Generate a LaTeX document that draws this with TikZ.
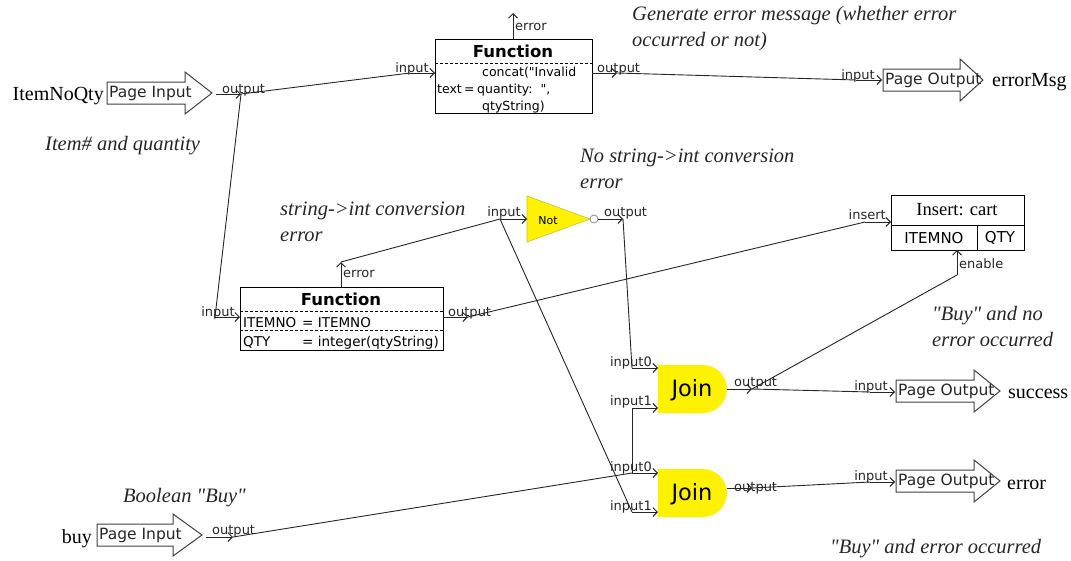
\documentclass[tikz,border=0pt]{standalone}
\usepackage{fontspec}
\setmainfont{Liberation Serif}
\setsansfont{DejaVu Sans}
\usetikzlibrary{arrows.meta}

% block arrow outline: left x, centre y, head start x, tip x
\newcommand\pagearrow[4]{%
  \draw[blockarrow] (#1,#2-11) -- (#3,#2-11) -- (#3,#2-21) -- (#4,#2)
    -- (#3,#2+21) -- (#3,#2+11) -- (#1,#2+11) -- cycle;}
\newcommand\dq{\textquotedbl}

\begin{document}
\begin{tikzpicture}[x=1pt,y=-1pt,
  wire/.style={draw=black!85, line width=0.9pt},
  port/.style={wire, -{Straight Barb[length=4.5pt,width=9pt,line width=0.9pt]}},
  plab/.style={font=\sffamily\fontsize{13}{13}\selectfont, inner sep=0pt, text=black!85},
  note/.style={font=\itshape\fontsize{20.5}{25.5}\selectfont, align=left, inner sep=0pt, anchor=base west, text=black!85},
  varname/.style={font=\fontsize{20}{20}\selectfont, inner sep=0pt},
  blockarrow/.style={draw=black!75, line width=1pt, fill=white},
  arrtext/.style={font=\sffamily\fontsize{15.5}{15.5}\selectfont, inner sep=0pt, anchor=west, text=black!85},
  boxline/.style={draw=black, line width=1pt},
  sepline/.style={draw=black, line width=0.8pt, dash pattern=on 3pt off 2pt},
  ftitle/.style={font=\sffamily\bfseries\fontsize{16.5}{16.5}\selectfont, inner sep=0pt},
  fbody/.style={font=\sffamily\fontsize{13.5}{13.5}\selectfont, inner sep=0pt, anchor=base west},
  fbodysm/.style={fbody, font=\sffamily\fontsize{12.5}{12.5}\selectfont},
  gate/.style={fill=yellow},
  joinlab/.style={font=\sffamily\fontsize{22.5}{22.5}\selectfont, inner sep=0pt},
]
\useasboundingbox (0,0) rectangle (1071,560);

% ---------------- page input: ItemNoQty ----------------
\node[varname, anchor=base east] (itemnoqty) at (104,100) {ItemNoQty};
\pagearrow{107}{93}{185}{212}
\node[arrtext] (pinA) at (109,93) {Page Input};
\coordinate (pinA-s) at (216,94);
\coordinate (pinA-o) at (241,94);
\draw[port] (pinA-s) -- (pinA-o);
\node[plab, anchor=base west] (pinA-lab) at (222,93) {output};
\node[note] (n-item) at (45,150) {Item\# and quantity};

% ---------------- top function ----------------
\node[boxline, anchor=north west, minimum width=157pt, minimum height=74pt, inner sep=0pt] (fn1) at (435,39) {};
\draw[sepline] (435,63) -- (592,63);
\node[ftitle] (fn1-title) at (513,51) {Function};
\node[fbodysm] (fn1-l1) at (482,76) {concat(\dq Invalid};
\node[fbodysm] (fn1-l2a) at (437,93) {text};
\node[fbodysm] (fn1-l2b) at (464,93) {=};
\node[fbodysm] (fn1-l2c) at (477,93) {quantity:\ \ \dq,};
\node[fbodysm] (fn1-l3) at (482,110) {qtyString)};
\coordinate (fn1-is) at (410,73);
\coordinate (fn1-i) at (435,73);
\coordinate (fn1-o) at (592,73);
\coordinate (fn1-os) at (617,73);
\coordinate (fn1-e) at (513,39);
\coordinate (fn1-es) at (513,13);
\draw[port] (fn1-is) -- (fn1-i);
\draw[port] (fn1-o) -- (fn1-os);
\draw[port] (fn1-e) -- (fn1-es);
\node[plab, anchor=base east] (fn1-ilab) at (429,72) {input};
\node[plab, anchor=base west] (fn1-olab) at (597,72) {output};
\node[plab, anchor=base west] (fn1-elab) at (515,30) {error};
\node[note] (n-gen) at (632,46) {Generate error message (whether error\\occurred or not)};

% ---------------- page output: errorMsg ----------------
\pagearrow{883}{80}{960}{983}
\node[arrtext] (po1) at (885,80) {Page Output};
\node[varname, anchor=base west] (errormsg) at (992,86) {errorMsg};
\coordinate (po1-is) at (856,80);
\coordinate (po1-i) at (882,80);
\draw[port] (po1-is) -- (po1-i);
\node[plab, anchor=base east] (po1-lab) at (875,79) {input};

% ---------------- lower function ----------------
\node[boxline, anchor=north west, minimum width=203pt, minimum height=63pt, inner sep=0pt] (fn2) at (240,287) {};
\draw[sepline] (240,311) -- (443,311);
\draw[sepline] (240,330) -- (443,330);
\node[ftitle] (fn2-title) at (341,299) {Function};
\node[fbody] (fn2-l1a) at (243,327) {ITEMNO};
\node[fbody] (fn2-l1b) at (302,327) {= ITEMNO};
\node[fbody] (fn2-l2a) at (243,346) {QTY};
\node[fbody] (fn2-l2b) at (302,346) {= integer(qtyString)};
\coordinate (fn2-is) at (215,317);
\coordinate (fn2-i) at (240,317);
\coordinate (fn2-o) at (443,317);
\coordinate (fn2-os) at (468,317);
\coordinate (fn2-e) at (341,287);
\coordinate (fn2-es) at (341,262);
\draw[port] (fn2-is) -- (fn2-i);
\draw[port] (fn2-o) -- (fn2-os);
\draw[port] (fn2-e) -- (fn2-es);
\node[plab, anchor=base east] (fn2-ilab) at (235,316) {input};
\node[plab, anchor=base west] (fn2-olab) at (448,316) {output};
\node[plab, anchor=base west] (fn2-elab) at (343,277) {error};
\node[note] (n-conv) at (280,241) {string->int conversion\\error};

% ---------------- not gate ----------------
\fill[gate, draw=black!25!yellow, line width=0.6pt] (527,196) -- (590,219) -- (527,242) -- cycle;
\draw[draw=black!45, fill=white, line width=0.8pt] (594,219) circle[radius=4];
\node[font=\sffamily\fontsize{11}{11}\selectfont, inner sep=0pt] (notg) at (548,221) {Not};
\coordinate (not-is) at (500,219);
\coordinate (not-i) at (527,219);
\coordinate (not-o) at (598,219);
\coordinate (not-os) at (623,219);
\draw[port] (not-is) -- (not-i);
\draw[port] (not-o) -- (not-os);
\node[plab, anchor=base east] (not-ilab) at (521,216) {input};
\node[plab, anchor=base west] (not-olab) at (604,216) {output};
\node[note] (n-noconv) at (580,188) {No string->int conversion\\error};

% ---------------- join gates ----------------
\fill[gate] (658,365) -- (703,365) arc[start angle=-90, end angle=90, radius=24] -- (658,413) -- cycle;
\node[joinlab] (join1) at (692,390) {Join};
\fill[gate] (658,469) -- (703,469) arc[start angle=-90, end angle=90, radius=24] -- (658,517) -- cycle;
\node[joinlab] (join2) at (692,494) {Join};
\coordinate (j1-a) at (632,368);
\coordinate (j1-ai) at (658,368);
\coordinate (j1-b) at (632,408);
\coordinate (j1-bi) at (658,408);
\coordinate (j1-o) at (727,389);
\coordinate (j1-os) at (752,389);
\coordinate (j2-a) at (632,473);
\coordinate (j2-ai) at (658,473);
\coordinate (j2-b) at (632,512);
\coordinate (j2-bi) at (658,512);
\coordinate (j2-o) at (727,488);
\coordinate (j2-os) at (752,488);
\draw[port] (j1-a) -- (j1-ai);
\draw[port] (j1-b) -- (j1-bi);
\draw[port] (j1-o) -- (j1-os);
\draw[port] (j2-a) -- (j2-ai);
\draw[port] (j2-b) -- (j2-bi);
\draw[port] (j2-o) -- (j2-os);
\node[plab, anchor=base east] (j1-alab) at (652,366) {input0};
\node[plab, anchor=base east] (j1-blab) at (652,405) {input1};
\node[plab, anchor=base west] (j1-olab) at (734,386) {output};
\node[plab, anchor=base east] (j2-alab) at (652,471) {input0};
\node[plab, anchor=base east] (j2-blab) at (652,510) {input1};
\node[plab, anchor=base west] (j2-olab) at (734,491) {output};

% ---------------- insert: cart ----------------
\node[boxline, anchor=north west, minimum width=133pt, minimum height=55pt, inner sep=0pt] (ins) at (891,195) {};
\draw[boxline] (891,225) -- (1024,225);
\draw[boxline] (977,225) -- (977,250);
\node[font=\fontsize{18.5}{18.5}\selectfont, inner sep=0pt] (ins-title) at (957,210) {Insert: cart};
\node[font=\sffamily\fontsize{15}{15}\selectfont, inner sep=0pt] (ins-c1) at (934,238) {ITEMNO};
\node[font=\sffamily\fontsize{15}{15}\selectfont, inner sep=0pt] (ins-c2) at (1000,238) {QTY};
\coordinate (ins-is) at (865,222);
\coordinate (ins-i) at (891,222);
\coordinate (ins-es) at (957,275);
\coordinate (ins-e) at (957,250);
\draw[port] (ins-is) -- (ins-i);
\draw[port] (ins-es) -- (ins-e);
\node[plab, anchor=base east] (ins-ilab) at (886,219) {insert};
\node[plab, anchor=base west] (ins-elab) at (959,268) {enable};
\node[note] (n-buyok) at (932,346) {\dq Buy\dq\ and no\\error occurred};

% ---------------- page outputs: success, error ----------------
\pagearrow{896}{391}{974}{1000}
\node[arrtext] (po2) at (898,391) {Page Output};
\node[varname, anchor=base west] (success) at (1008,398) {success};
\coordinate (po2-is) at (870,392);
\coordinate (po2-i) at (895,392);
\draw[port] (po2-is) -- (po2-i);
\node[plab, anchor=base east] (po2-lab) at (888,390) {input};

\pagearrow{896}{481}{974}{1000}
\node[arrtext] (po3) at (898,481) {Page Output};
\node[varname, anchor=base west] (errorout) at (1007,489) {error};
\coordinate (po3-is) at (870,482);
\coordinate (po3-i) at (895,482);
\draw[port] (po3-is) -- (po3-i);
\node[plab, anchor=base east] (po3-lab) at (888,480) {input};
\node[note] (n-buyerr) at (830,553) {\dq Buy\dq\ and error occurred};

% ---------------- page input: buy ----------------
\node[varname, anchor=base east] (buy) at (92,543) {buy};
\pagearrow{97}{535}{173}{202}
\node[arrtext] (pinB) at (99,535) {Page Input};
\coordinate (pinB-s) at (206,537);
\coordinate (pinB-o) at (233,537);
\draw[port] (pinB-s) -- (pinB-o);
\node[plab, anchor=base west] (pinB-lab) at (212,534) {output};
\node[note] (n-bool) at (123,502) {Boolean \dq Buy\dq};

% ---------------- wires ----------------
\draw[wire] (pinA-o) -- (fn1-is);
\draw[wire] (pinA-o) -- (fn2-is);
\draw[wire] (fn1-os) -- (po1-is);
\draw[wire] (fn2-es) -- (not-is);
\draw[wire] (not-is) -- (j2-b);
\draw[wire] (not-os) -- (j1-a);
\draw[wire] (pinB-o) -- (j2-a);
\draw[wire] (j2-a) -- (j1-b);
\draw[wire] (fn2-os) -- (ins-is);
\draw[wire] (j1-os) -- (ins-es);
\draw[wire] (j1-os) -- (po2-is);
\draw[wire] (j2-os) -- (po3-is);
\end{tikzpicture}
\end{document}
